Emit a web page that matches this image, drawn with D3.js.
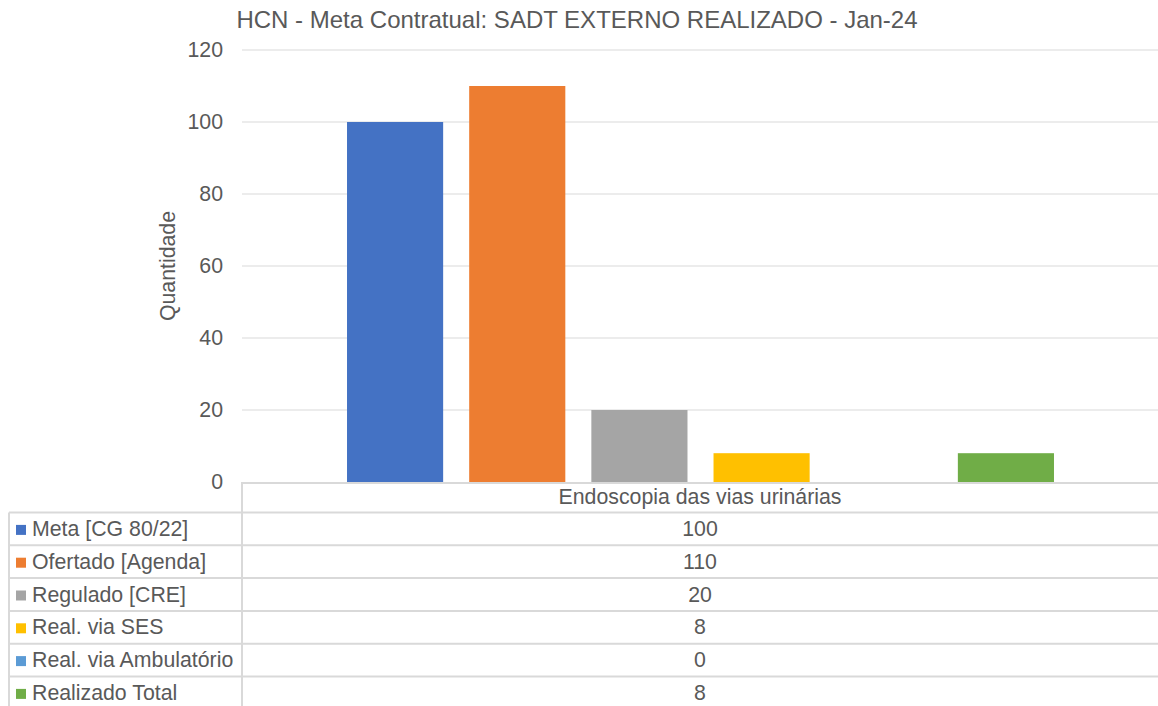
<!DOCTYPE html>
<html><head><meta charset="utf-8">
<script src="https://cdn.jsdelivr.net/npm/d3@7"></script>
<style>body{margin:0;background:#fff}svg{display:block;font-family:"Liberation Sans",Arial,sans-serif}</style>
</head><body>
<svg id="c" width="1158" height="706"></svg>
<script>
const title = "HCN - Meta Contratual: SADT EXTERNO REALIZADO - Jan-24";
const category = "Endoscopia das vias urinárias";
const seriesNames = ["Meta [CG 80/22]","Ofertado [Agenda]","Regulado [CRE]","Real. via SES","Real. via Ambulatório","Realizado Total"];
const seriesValues = [100,110,20,8,0,8];
const seriesColors = ["#4472C4","#ED7D31","#A5A5A5","#FFC000","#5B9BD5","#70AD47"];
const yTicks = [0,20,40,60,80,100,120];
const yTitle = "Quantidade";

const svg = d3.select("#c");
const L = 242, R = 1158, T = 50, B = 482;
const txt = "#595959", grid = "#D9D9D9";
const fs = 21.3;

const y = d3.scaleLinear().domain([0,120]).range([B,T]);
const x = d3.scaleBand().domain(seriesNames).range([334,1067]).paddingInner(26/122).paddingOuter(13/122);

svg.append("text").attr("x",577).attr("y",28).attr("text-anchor","middle")
  .attr("font-size",24).attr("fill",txt).text(title);

svg.append("g").selectAll("line").data(yTicks.filter(d=>d>0)).join("line")
  .attr("x1",L).attr("x2",R).attr("y1",d=>y(d)).attr("y2",d=>y(d))
  .attr("stroke",grid).attr("stroke-width",1);

const ax = svg.append("g").attr("transform",`translate(${L-19},0)`)
  .call(d3.axisLeft(y).tickValues(yTicks).tickSize(0).tickPadding(0));
ax.select(".domain").remove();
ax.selectAll("text").attr("font-size",fs).attr("fill",txt).attr("font-family","Liberation Sans,Arial,sans-serif");

svg.append("text").attr("transform",`translate(175,266) rotate(-90)`)
  .attr("text-anchor","middle").attr("font-size",fs).attr("fill",txt).text(yTitle);

svg.selectAll("rect.bar").data(seriesValues).join("rect").attr("class","bar")
  .attr("x",(d,i)=>x(seriesNames[i])).attr("width",x.bandwidth())
  .attr("y",d=>y(d)).attr("height",d=>B-y(d)).attr("fill",(d,i)=>seriesColors[i]);

// data table
const rowH = 32.8, tableTop = 512.5, lineC = "#D9D9D9", lw = 2;
svg.append("line").attr("x1",L).attr("x2",R).attr("y1",B+1).attr("y2",B+1).attr("stroke",lineC).attr("stroke-width",lw);
svg.append("text").attr("x",(L+R)/2).attr("y",504)
  .attr("text-anchor","middle").attr("font-size",fs).attr("fill",txt).text(category);
svg.append("line").attr("x1",L).attr("x2",L).attr("y1",B).attr("y2",706).attr("stroke",lineC).attr("stroke-width",lw);
svg.append("line").attr("x1",9).attr("x2",9).attr("y1",tableTop).attr("y2",706).attr("stroke",lineC).attr("stroke-width",lw);
seriesNames.forEach((n,i)=>{
  const y0 = tableTop + i*rowH;
  svg.append("line").attr("x1",9).attr("x2",R).attr("y1",y0).attr("y2",y0).attr("stroke",lineC).attr("stroke-width",lw);
  const cy = y0 + rowH/2;
  svg.append("rect").attr("x",16).attr("y",cy-4).attr("width",10).attr("height",10).attr("fill",seriesColors[i]);
  svg.append("text").attr("x",32).attr("y",cy+7).attr("font-size",fs).attr("fill",txt).text(n);
  svg.append("text").attr("x",(L+R)/2).attr("y",cy+7).attr("text-anchor","middle")
    .attr("font-size",fs).attr("fill",txt).text(seriesValues[i]);
});
</script>
</body></html>
